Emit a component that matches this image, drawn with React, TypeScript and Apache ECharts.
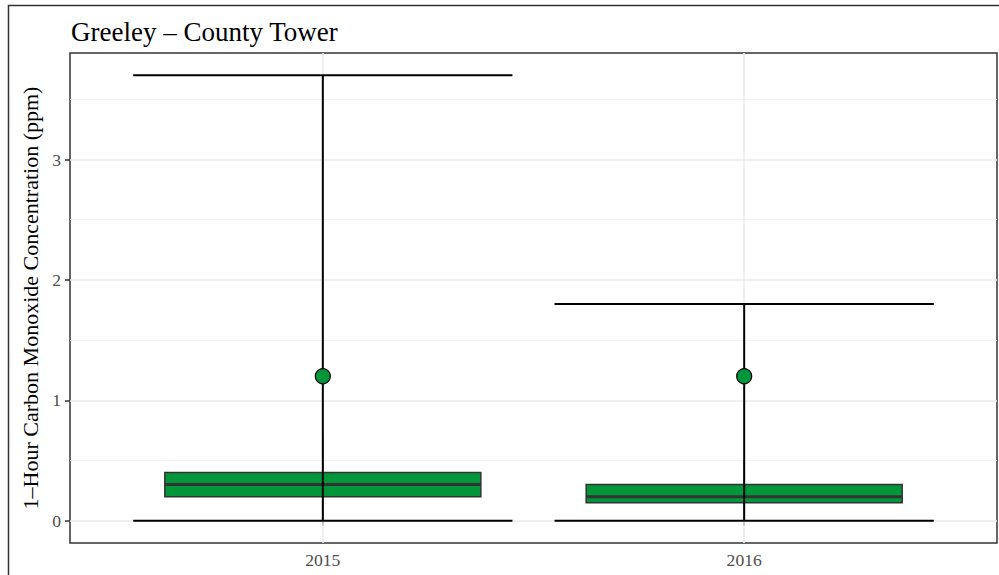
import React, { useEffect, useRef } from 'react';
import * as echarts from 'echarts';

// ---- data ----
const categories = ['2015', '2016'];
const xPositions = [1, 2];
const whiskerLow = [0, 0];
const q1 = [0.2, 0.15];
const median = [0.3, 0.2];
const q3 = [0.4, 0.3];
const whiskerHigh = [0.7, 0.5];
const rangeMin = [0, 0];
const rangeMax = [3.7, 1.8];
const pointValue = [1.2, 1.2];
const yTicks = [0, 1, 2, 3];
const yMinorGrid = [0.5, 1.5, 2.5, 3.5];

const GREEN = '#009639';
const FONT = 'Liberation Serif';

export default function App() {
  const ref = useRef<HTMLDivElement>(null);
  useEffect(() => {
    if (!ref.current) return;
    const chart = echarts.init(ref.current, null, { renderer: 'svg' });
    const boxData = categories.map((_, i) => [
      xPositions[i], whiskerLow[i], q1[i], median[i], q3[i], whiskerHigh[i], rangeMin[i], rangeMax[i],
    ]);
    const gridLines: any[] = [
      ...yTicks.map((v) => ({ yAxis: v, lineStyle: { color: '#EBEBEB', width: 1.5, type: 'solid' } })),
      ...yMinorGrid.map((v) => ({ yAxis: v, lineStyle: { color: '#F2F2F2', width: 1, type: 'solid' } })),
      ...xPositions.map((v) => ({ xAxis: v, lineStyle: { color: '#EBEBEB', width: 1.5, type: 'solid' } })),
    ];
    const option: any = {
      animation: false,
      backgroundColor: '#fff',
      title: {
        text: 'Greeley – County Tower',
        left: 66,
        top: 13,
        textStyle: { fontFamily: FONT, fontSize: 27, fontWeight: 'normal', color: '#000' },
      },
      grid: {
        left: 70, top: 53, right: 2, bottom: 32,
        show: true, borderColor: '#333', borderWidth: 1.5, backgroundColor: 'transparent',
      },
      xAxis: {
        type: 'value', min: 0.4, max: 2.6,
        axisLine: { show: false },
        splitLine: { show: false },
        axisTick: { show: true, customValues: xPositions, length: 5, lineStyle: { color: '#333', width: 1.5 } },
        axisLabel: {
          customValues: xPositions,
          margin: 8,
          formatter: (v: number) => categories[Math.round(v) - 1] ?? '',
          fontFamily: FONT, fontSize: 17.6, color: '#4D4D4D',
        },
      },
      yAxis: {
        type: 'value', min: -0.185, max: 3.885,
        name: '1–Hour Carbon Monoxide Concentration (ppm)',
        nameLocation: 'middle',
        nameGap: 27,
        nameTextStyle: { fontFamily: FONT, fontSize: 22, color: '#000' },
        axisLine: { show: false },
        splitLine: { show: false },
        axisTick: { show: true, customValues: yTicks, length: 5, lineStyle: { color: '#333', width: 1.5 } },
        axisLabel: {
          customValues: yTicks,
          margin: 9,
          fontFamily: FONT, fontSize: 17.6, color: '#4D4D4D',
        },
      },
      graphic: [
        {
          type: 'rect', silent: true, z: 100,
          shape: { x: 8.5, y: 5.5, width: 1100, height: 700 },
          style: { fill: 'none', stroke: '#333', lineWidth: 1.5 },
        },
      ],
      series: [
        {
          type: 'line', data: [], z: 1, silent: true,
          markLine: { silent: true, z: 1, symbol: ['none', 'none'], label: { show: false }, data: gridLines },
        },
        {
          type: 'custom',
          z: 3,
          data: boxData,
          renderItem: (params: any, api: any) => {
            const x = api.value(0);
            const lo = api.value(1), a = api.value(2), m = api.value(3), b = api.value(4);
            const hi = api.value(5), rmin = api.value(6), rmax = api.value(7);
            const boxHalf = 0.375, capHalf = 0.45;
            const c = (xx: number, yy: number) => api.coord([xx, yy]);
            const [cx, yLo] = c(x, lo);
            const [, yHi] = c(x, hi);
            const [xl, yQ3] = c(x - boxHalf, b);
            const [xr, yQ1] = c(x + boxHalf, a);
            const [, yMed] = c(x, m);
            const [cl, yRmin] = c(x - capHalf, rmin);
            const [cr, yRmax] = c(x + capHalf, rmax);
            return {
              type: 'group',
              children: [
                { type: 'line', shape: { x1: cx, y1: yLo, x2: cx, y2: yHi }, style: { stroke: '#333', lineWidth: 1 } },
                { type: 'rect', shape: { x: xl, y: yQ3, width: xr - xl, height: yQ1 - yQ3 }, style: { fill: GREEN, stroke: '#333', lineWidth: 1.5 } },
                { type: 'line', shape: { x1: xl, y1: yMed, x2: xr, y2: yMed }, style: { stroke: '#333', lineWidth: 3 } },
                { type: 'line', shape: { x1: cx, y1: yRmin, x2: cx, y2: yRmax }, style: { stroke: '#000', lineWidth: 2 } },
                { type: 'line', shape: { x1: cl, y1: yRmin, x2: cr, y2: yRmin }, style: { stroke: '#000', lineWidth: 2 } },
                { type: 'line', shape: { x1: cl, y1: yRmax, x2: cr, y2: yRmax }, style: { stroke: '#000', lineWidth: 2 } },
              ],
            };
          },
        },
        {
          type: 'scatter',
          z: 5,
          data: xPositions.map((x, i) => [x, pointValue[i]]),
          symbol: 'circle',
          symbolSize: 15,
          itemStyle: { color: GREEN, borderColor: '#000', borderWidth: 1.2, opacity: 1 },
        },
      ],
    };
    chart.setOption(option);
    return () => chart.dispose();
  }, []);
  return <div ref={ref} style={{ position: 'fixed', left: 0, top: 0, width: 999, height: 575 }} />;
}
